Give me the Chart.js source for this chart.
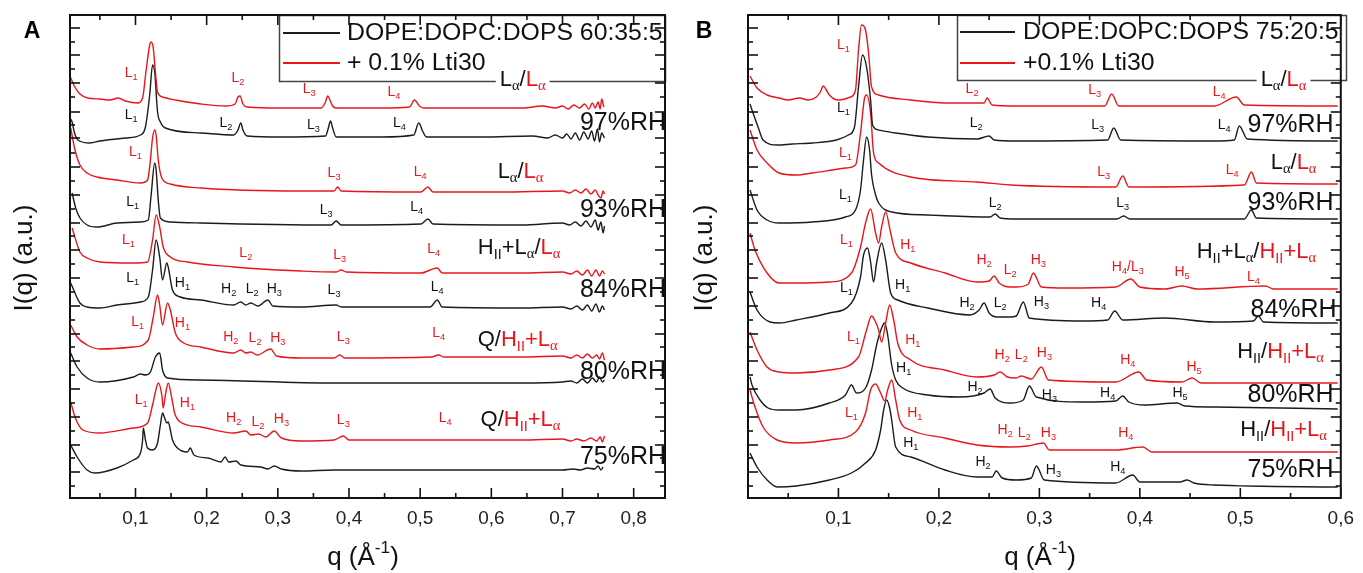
<!DOCTYPE html>
<html>
<head>
<meta charset="utf-8">
<script src="https://cdn.jsdelivr.net/npm/chart.js@4.4.1/dist/chart.umd.min.js"></script>
<style>
  html, body { margin: 0; padding: 0; background: #fff; }
  body { width: 1363px; height: 573px; position: relative; overflow: hidden; }
  .panel { position: absolute; top: 0; }
  #panelA { left: 0; width: 680px; height: 573px; }
  #panelB { left: 680px; width: 683px; height: 573px; }
</style>
</head>
<body>
<div class="panel" id="panelA"><canvas id="chartA" width="680" height="573"></canvas></div>
<div class="panel" id="panelB"><canvas id="chartB" width="683" height="573"></canvas></div>
<script>
// ---- data: [q (1/Å), stacked intensity (a.u.)] ----
const qTicksA = [0.1, 0.2, 0.3, 0.4, 0.5, 0.6, 0.7, 0.8];
const qTicksB = [0.1, 0.2, 0.3, 0.4, 0.5, 0.6];

// panel A: DOPE:DOPC:DOPS 60:35:5 (lipid) and + 0.1% Lti30
const a97Lti30 = [[0.008,422],[0.014,412],[0.022,404],[0.033,400],[0.050,399],[0.064,398],[0.076,400],[0.086,397],[0.103,395],[0.110,400],[0.115,428],[0.120,453],[0.122,456],[0.125,450],[0.128,426],[0.131,406],[0.138,401],[0.156,398],[0.192,394],[0.227,392],[0.240,394],[0.244,401],[0.247,402],[0.251,394],[0.257,391],[0.305,390],[0.361,390],[0.367,396],[0.370,402],[0.372,400],[0.377,392],[0.382,390],[0.446,390],[0.485,391],[0.492,398],[0.499,392],[0.505,390],[0.573,390],[0.644,390],[0.672,392],[0.690,390],[0.700,392],[0.708,389],[0.716,393],[0.724,390],[0.731,394],[0.737,389],[0.742,395],[0.746,390],[0.750,396],[0.753,389],[0.755,399],[0.758,391]];
const a97Lipid = [[0.008,380],[0.011,376],[0.014,366],[0.019,358],[0.036,355],[0.050,357],[0.086,360],[0.107,363],[0.114,371],[0.120,403],[0.124,433],[0.127,426],[0.131,386],[0.135,376],[0.142,370],[0.192,365],[0.238,363],[0.244,368],[0.248,375],[0.251,368],[0.257,362],[0.305,361],[0.367,362],[0.371,370],[0.374,377],[0.377,370],[0.382,361],[0.446,361],[0.491,363],[0.498,375],[0.504,366],[0.509,361],[0.587,361],[0.658,362],[0.679,360],[0.690,363],[0.700,360],[0.706,364],[0.712,359],[0.718,365],[0.724,358],[0.730,366],[0.736,359],[0.741,367],[0.745,357],[0.749,369],[0.752,356],[0.755,365],[0.759,360]];
const a93Lti30 = [[0.009,370],[0.015,348],[0.022,333],[0.032,325],[0.046,321],[0.074,318],[0.107,315],[0.117,318],[0.121,338],[0.124,360],[0.127,368],[0.129,363],[0.132,338],[0.137,320],[0.149,314],[0.192,310],[0.333,307],[0.379,307],[0.384,311],[0.389,307],[0.501,306],[0.511,311],[0.518,306],[0.614,306],[0.700,307],[0.710,305],[0.718,308],[0.726,305],[0.733,309],[0.740,304],[0.746,308],[0.750,303],[0.754,300],[0.757,307],[0.759,304]];
const a93Lipid = [[0.011,305],[0.016,290],[0.022,280],[0.032,273],[0.046,271],[0.074,275],[0.107,276],[0.118,278],[0.122,303],[0.127,335],[0.129,328],[0.132,298],[0.135,280],[0.149,276],[0.192,275],[0.375,273],[0.382,277],[0.389,273],[0.501,274],[0.511,279],[0.518,274],[0.643,273],[0.700,275],[0.710,273],[0.718,276],[0.726,272],[0.733,277],[0.740,271],[0.746,278],[0.750,268],[0.754,276],[0.757,265],[0.759,272]];
const a84Lti30 = [[0.011,270],[0.022,246],[0.032,240],[0.050,236],[0.097,235],[0.117,236],[0.124,258],[0.129,283],[0.134,271],[0.139,251],[0.149,241],[0.173,236],[0.238,231],[0.255,230],[0.333,227],[0.382,226],[0.389,228],[0.396,226],[0.501,225],[0.524,230],[0.531,225],[0.643,225],[0.700,226],[0.712,224],[0.720,227],[0.728,223],[0.735,228],[0.741,222],[0.747,228],[0.752,222],[0.756,227],[0.759,224]];
const a84Lipid = [[0.009,215],[0.022,195],[0.032,191],[0.050,190],[0.074,193],[0.107,196],[0.118,201],[0.124,228],[0.129,258],[0.134,241],[0.138,218],[0.144,235],[0.146,231],[0.152,208],[0.163,201],[0.192,198],[0.238,193],[0.248,196],[0.255,193],[0.262,195],[0.272,192],[0.286,198],[0.293,192],[0.333,191],[0.382,193],[0.389,191],[0.514,191],[0.524,198],[0.531,191],[0.643,190],[0.700,191],[0.712,189],[0.720,192],[0.728,188],[0.735,193],[0.741,187],[0.747,194],[0.752,186],[0.756,192],[0.759,188]];
const a80Lti30 = [[0.009,173],[0.018,161],[0.032,153],[0.050,149],[0.097,151],[0.118,158],[0.125,181],[0.131,203],[0.134,193],[0.138,173],[0.145,195],[0.149,188],[0.156,165],[0.168,155],[0.192,151],[0.238,145],[0.248,148],[0.255,145],[0.262,146],[0.271,143],[0.290,149],[0.298,142],[0.333,140],[0.379,140],[0.387,143],[0.394,140],[0.516,141],[0.526,143],[0.533,141],[0.643,141],[0.700,142],[0.712,140],[0.720,143],[0.728,140],[0.735,144],[0.742,140],[0.748,143],[0.752,139],[0.756,145],[0.759,138]];
const a80Lipid = [[0.009,145],[0.018,131],[0.032,120],[0.050,116],[0.097,121],[0.107,124],[0.114,123],[0.121,126],[0.128,141],[0.134,145],[0.138,128],[0.145,120],[0.192,118],[0.379,115],[0.643,115],[0.700,116],[0.712,117],[0.720,115],[0.728,119],[0.735,115],[0.742,120],[0.748,116],[0.752,121],[0.756,116],[0.759,118]];
const a75Lti30 = [[0.009,96],[0.015,81],[0.026,68],[0.050,65],[0.097,70],[0.117,75],[0.124,93],[0.128,106],[0.132,115],[0.137,103],[0.139,90],[0.142,103],[0.146,115],[0.151,100],[0.155,85],[0.163,76],[0.192,71],[0.238,65],[0.255,67],[0.262,63],[0.273,64],[0.283,61],[0.295,67],[0.305,60],[0.333,57],[0.379,58],[0.392,62],[0.400,58],[0.643,58],[0.700,59],[0.712,57],[0.720,59],[0.730,57],[0.740,60],[0.748,57],[0.753,61],[0.756,56],[0.759,62]];
const a75Lipid = [[0.009,53],[0.018,41],[0.032,28],[0.043,25],[0.074,30],[0.097,38],[0.107,45],[0.110,58],[0.111,70],[0.114,58],[0.117,50],[0.124,48],[0.131,55],[0.135,73],[0.138,85],[0.141,80],[0.144,75],[0.146,76],[0.149,68],[0.152,58],[0.159,50],[0.173,46],[0.177,50],[0.182,43],[0.202,40],[0.220,36],[0.226,41],[0.231,36],[0.241,37],[0.248,33],[0.276,31],[0.286,29],[0.295,32],[0.305,29],[0.333,27],[0.379,28],[0.643,28],[0.700,28],[0.715,29],[0.725,28],[0.735,30],[0.745,29],[0.750,32],[0.754,28],[0.757,31]];

// panel B: DOPE:DOPC:DOPS 75:20:5 (lipid) and +0.1% Lti30
const b97Lti30 = [[0.012,422],[0.019,410],[0.029,403],[0.041,400],[0.050,398],[0.061,400],[0.070,398],[0.078,401],[0.082,406],[0.085,412],[0.088,408],[0.091,403],[0.100,398],[0.112,401],[0.117,408],[0.120,448],[0.123,473],[0.127,468],[0.130,445],[0.133,411],[0.140,403],[0.172,398],[0.206,395],[0.245,395],[0.248,400],[0.253,393],[0.277,392],[0.365,392],[0.372,404],[0.379,392],[0.474,392],[0.496,401],[0.504,393],[0.597,392]];
const b97Lipid = [[0.012,394],[0.014,388],[0.020,371],[0.025,358],[0.039,353],[0.054,354],[0.074,355],[0.098,358],[0.110,363],[0.116,371],[0.120,411],[0.124,443],[0.128,431],[0.132,398],[0.134,373],[0.140,368],[0.157,365],[0.189,361],[0.238,359],[0.250,362],[0.255,358],[0.277,357],[0.368,358],[0.374,370],[0.381,358],[0.474,357],[0.494,358],[0.499,372],[0.507,359],[0.597,357]];
const b93Lti30 = [[0.012,368],[0.019,348],[0.029,335],[0.041,325],[0.058,323],[0.074,325],[0.094,328],[0.107,330],[0.117,333],[0.122,365],[0.126,400],[0.128,403],[0.132,385],[0.135,345],[0.140,335],[0.172,321],[0.238,316],[0.271,313],[0.376,311],[0.383,322],[0.389,311],[0.504,313],[0.511,326],[0.516,315],[0.597,314]];
const b93Lipid = [[0.012,308],[0.019,288],[0.029,278],[0.041,275],[0.074,276],[0.107,281],[0.117,288],[0.122,308],[0.125,338],[0.128,361],[0.131,348],[0.133,323],[0.137,303],[0.140,295],[0.153,286],[0.189,283],[0.251,281],[0.256,284],[0.261,280],[0.277,279],[0.377,279],[0.384,282],[0.390,279],[0.504,279],[0.511,288],[0.516,280],[0.597,279]];
const b84Lti30 = [[0.012,265],[0.017,248],[0.029,225],[0.041,215],[0.058,215],[0.091,216],[0.113,225],[0.122,251],[0.127,275],[0.132,289],[0.137,265],[0.140,255],[0.143,271],[0.147,286],[0.152,265],[0.157,245],[0.172,235],[0.206,225],[0.238,216],[0.250,217],[0.255,222],[0.260,215],[0.271,211],[0.277,211],[0.289,214],[0.294,225],[0.302,211],[0.327,210],[0.376,211],[0.391,219],[0.400,211],[0.425,209],[0.442,212],[0.457,209],[0.525,212],[0.533,209],[0.597,209]];
const b84Lipid = [[0.012,206],[0.019,188],[0.032,176],[0.041,175],[0.058,178],[0.091,185],[0.113,195],[0.122,221],[0.125,243],[0.129,250],[0.132,236],[0.135,216],[0.138,235],[0.143,255],[0.147,238],[0.152,205],[0.159,198],[0.189,190],[0.231,183],[0.240,188],[0.245,195],[0.250,185],[0.258,181],[0.271,181],[0.277,182],[0.284,196],[0.290,180],[0.343,177],[0.368,178],[0.375,187],[0.383,178],[0.425,180],[0.474,176],[0.513,177],[0.518,182],[0.523,176],[0.597,175]];
const b80Lti30 = [[0.012,166],[0.019,148],[0.029,131],[0.041,126],[0.058,125],[0.091,128],[0.120,141],[0.128,168],[0.133,182],[0.137,176],[0.140,168],[0.143,156],[0.147,175],[0.151,193],[0.155,178],[0.159,155],[0.172,138],[0.206,128],[0.238,121],[0.255,123],[0.261,126],[0.268,121],[0.277,120],[0.282,122],[0.292,119],[0.302,131],[0.309,118],[0.376,116],[0.399,126],[0.407,118],[0.442,116],[0.452,120],[0.461,115],[0.597,115]];
const b80Lipid = [[0.012,121],[0.014,113],[0.022,98],[0.030,90],[0.041,88],[0.058,88],[0.091,95],[0.107,103],[0.113,113],[0.118,105],[0.127,110],[0.133,128],[0.138,153],[0.143,170],[0.146,175],[0.149,163],[0.153,133],[0.157,118],[0.164,110],[0.189,103],[0.221,101],[0.245,105],[0.251,109],[0.256,100],[0.271,95],[0.284,98],[0.290,112],[0.297,101],[0.343,96],[0.376,97],[0.383,102],[0.389,96],[0.405,93],[0.437,95],[0.445,92],[0.474,91],[0.597,89]];
const b75Lti30 = [[0.012,108],[0.017,91],[0.025,71],[0.039,58],[0.058,55],[0.091,58],[0.117,66],[0.127,85],[0.132,108],[0.137,114],[0.142,105],[0.146,97],[0.149,108],[0.153,118],[0.157,98],[0.161,78],[0.172,68],[0.206,60],[0.238,53],[0.271,51],[0.288,52],[0.304,55],[0.310,48],[0.376,48],[0.403,51],[0.412,46],[0.597,46]];
const b75Lipid = [[0.012,45],[0.019,31],[0.029,18],[0.039,11],[0.058,12],[0.091,18],[0.113,25],[0.127,35],[0.137,48],[0.142,68],[0.145,88],[0.148,98],[0.151,90],[0.153,78],[0.157,51],[0.172,41],[0.206,28],[0.238,21],[0.253,21],[0.257,27],[0.263,20],[0.277,18],[0.292,20],[0.297,32],[0.305,18],[0.376,15],[0.393,23],[0.400,16],[0.440,16],[0.447,18],[0.454,15],[0.474,13],[0.597,11]];

// y axis tick marks (no labels, arbitrary units)
const yMajor = [470, 443, 415, 386, 360, 331, 303, 275, 248, 220, 192, 164, 137, 109, 81, 53, 26];
const yMinor = [456, 429, 401, 373, 345, 317, 289, 262, 234, 206, 178, 151, 123, 95, 67, 40, 12];

// peak labels [q, level, text, colour]
const peaksA = [
  [0.094,425,'L_1','r'],[0.244,420,'L_2','r'],[0.344,409,'L_3','r'],[0.463,406,'L_4','r'],
  [0.094,383,'L_1','k'],[0.227,375,'L_2','k'],[0.350,373,'L_3','k'],[0.471,375,'L_4','k'],
  [0.100,346,'L_1','r'],[0.379,325,'L_3','r'],[0.500,326,'L_4','r'],
  [0.096,296,'L_1','k'],[0.368,288,'L_3','k'],[0.495,291,'L_4','k'],
  [0.090,258,'L_1','r'],[0.255,245,'L_2','r'],[0.387,243,'L_3','r'],[0.519,249,'L_4','r'],
  [0.096,220,'L_1','k'],[0.166,215,'H_1','k'],[0.231,209,'H_2','k'],[0.264,209,'L_2','k'],[0.295,209,'H_3','k'],[0.379,208,'L_3','k'],[0.524,211,'L_4','k'],
  [0.103,176,'L_1','r'],[0.166,175,'H_1','r'],[0.234,161,'H_2','r'],[0.268,160,'L_2','r'],[0.300,160,'H_3','r'],[0.392,161,'L_3','r'],[0.526,165,'L_4','r'],
  [0.108,98,'L_1','r'],[0.173,95,'H_1','r'],[0.238,80,'H_2','r'],[0.272,76,'L_2','r'],[0.305,79,'H_3','r'],[0.392,78,'L_3','r'],[0.535,80,'L_4','r']
];
const peaksB = [
  [0.105,453,'L_1','r'],[0.233,409,'L_2','r'],[0.355,408,'L_3','r'],[0.479,406,'L_4','r'],
  [0.105,390,'L_1','k'],[0.237,375,'L_2','k'],[0.358,373,'L_3','k'],[0.484,373,'L_4','k'],
  [0.107,345,'L_1','r'],[0.364,326,'L_3','r'],[0.492,328,'L_4','r'],
  [0.107,303,'L_1','k'],[0.256,295,'L_2','k'],[0.383,295,'L_3','k'],
  [0.108,258,'L_1','r'],[0.169,253,'H_1','r'],[0.245,238,'H_2','r'],[0.271,228,'L_2','r'],[0.299,238,'H_3','r'],[0.388,231,'H_4/L_3','r'],[0.442,226,'H_5','r'],[0.513,221,'L_4','r'],
  [0.108,210,'L_1','k'],[0.164,213,'H_1','k'],[0.228,195,'H_2','k'],[0.261,195,'L_2','k'],[0.302,196,'H_3','k'],[0.359,195,'H_4','k'],
  [0.115,161,'L_1','r'],[0.174,158,'H_1','r'],[0.263,143,'H_2','r'],[0.282,143,'L_2','r'],[0.305,145,'H_3','r'],[0.388,138,'H_4','r'],[0.454,131,'H_5','r'],
  [0.165,130,'H_1','k'],[0.236,111,'H_2','k'],[0.310,103,'H_3','k'],[0.368,105,'H_4','k'],[0.440,105,'H_5','k'],
  [0.113,85,'L_1','r'],[0.176,85,'H_1','r'],[0.266,68,'H_2','r'],[0.285,65,'L_2','r'],[0.309,65,'H_3','r'],[0.386,65,'H_4','r'],
  [0.172,55,'H_1','k'],[0.244,36,'H_2','k'],[0.314,28,'H_3','k'],[0.378,31,'H_4','k']
];

// phase labels and humidity labels [q, level, parts]
const phasesA = [
  [0.644,418,[['L_α/','k'],['L_α','r']]],
  [0.641,326,[['L_α/','k'],['L_α','r']]],
  [0.639,250,[['H_{II}+L_α/','k'],['L_α','r']]],
  [0.637,158,[['Q/','k'],['H_{II}+L_α','r']]],
  [0.641,78,[['Q/','k'],['H_{II}+L_α','r']]]
];
const phasesB = [
  [0.543,418,[['L_α/','k'],['L_α','r']]],
  [0.553,335,[['L_α/','k'],['L_α','r']]],
  [0.516,246,[['H_{II}+L_α/','k'],['H_{II}+L_α','r']]],
  [0.540,146,[['H_{II}/','k'],['H_{II}+L_α','r']]],
  [0.543,68,[['H_{II}/','k'],['H_{II}+L_α','r']]]
];
const rhA = [[0.785,375,'97%RH'],[0.785,288,'93%RH'],[0.785,208,'84%RH'],[0.785,126,'80%RH'],[0.785,41,'75%RH']];
const rhB = [[0.550,373,'97%RH'],[0.550,295,'93%RH'],[0.553,188,'84%RH'],[0.550,103,'80%RH'],[0.550,28,'75%RH']];

const RED = '#e8161b', BLACK = '#1c1c1c';
const SANS = '"Liberation Sans", Arial, sans-serif';
const SERIF = '"Liberation Serif", "Times New Roman", serif';

function runsOf(str, color) {
  const out = [];
  let i = 0;
  while (i < str.length) {
    const ch = str[i];
    if ((ch === '_' || ch === '^') && i + 1 < str.length) {
      let body;
      if (str[i + 1] === '{') { const j = str.indexOf('}', i); body = str.slice(i + 2, j); i = j + 1; }
      else { body = str[i + 1]; i += 2; }
      out.push({ t: body, c: color, m: ch === '_' ? 'sub' : 'sup' });
    } else {
      const last = out[out.length - 1];
      if (last && !last.m && last.c === color && ch !== 'α' && !/α/.test(last.t)) last.t += ch;
      else out.push({ t: ch, c: color, m: '' });
      i++;
    }
  }
  return out;
}

function fontOf(r, size) {
  const s = r.m ? size * 0.66 : size;
  const fam = /α/.test(r.t) ? SERIF : SANS;
  return s.toFixed(1) + 'px ' + fam;
}

function drawRich(ctx, runs, x, y, size, align, bg) {
  let w = 0;
  runs.forEach(r => { ctx.font = fontOf(r, size); r.w = ctx.measureText(r.t).width; w += r.w; });
  let cx = align === 'center' ? x - w / 2 : align === 'right' ? x - w : x;
  if (bg) { ctx.fillStyle = '#fff'; ctx.fillRect(cx - 4, y - size * 0.6, w + 8, size * 1.25); }
  ctx.textBaseline = 'middle';
  ctx.textAlign = 'left';
  runs.forEach(r => {
    ctx.font = fontOf(r, size);
    ctx.fillStyle = r.c;
    const dy = r.m === 'sub' ? size * 0.3 : r.m === 'sup' ? -size * 0.38 : 0;
    ctx.fillText(r.t, cx, y + dy);
    cx += r.w;
  });
}

const decorCfg = {};

const decor = {
  id: 'decor',
  afterDatasetsDraw(chart) {
    const d = decorCfg[chart.canvas.id];
    const ctx = chart.ctx, a = chart.chartArea;
    const xs = chart.scales.x, ys = chart.scales.y;
    const col = k => (k === 'r' ? RED : '#111');
    ctx.save();

    // legend box
    const L = d.legend;
    ctx.fillStyle = '#fff';
    ctx.fillRect(L.x0, a.top, L.x1 - L.x0, L.y1 - a.top);
    ctx.strokeStyle = '#444';
    ctx.lineWidth = 1.5;
    ctx.strokeRect(L.x0 + 0.5, a.top + 0.5, L.x1 - L.x0, L.y1 - a.top);
    ctx.lineWidth = 2;
    [[BLACK, L.rows[0]], [RED, L.rows[1]]].forEach(([c, row], i) => {
      const y = L.ys[i];
      ctx.strokeStyle = c;
      ctx.beginPath(); ctx.moveTo(L.lx0, y); ctx.lineTo(L.lx1, y); ctx.stroke();
      drawRich(ctx, runsOf(row, '#111'), L.tx, y, 24.8, 'left');
    });

    // frame
    ctx.strokeStyle = '#111';
    ctx.lineWidth = 2;
    ctx.strokeRect(a.left, a.top, a.right - a.left, a.bottom - a.top);

    // ticks (all pointing inward)
    ctx.lineWidth = 1.6;
    const seg = (x0, y0, x1, y1) => { ctx.beginPath(); ctx.moveTo(x0, y0); ctx.lineTo(x1, y1); ctx.stroke(); };
    d.qMajor.forEach(q => { const x = xs.getPixelForValue(q); seg(x, a.bottom, x, a.bottom - 10); seg(x, a.top, x, a.top + 10); });
    d.qMinor.forEach(q => { const x = xs.getPixelForValue(q); seg(x, a.bottom, x, a.bottom - 5); seg(x, a.top, x, a.top + 5); });
    yMajor.forEach(v => { const y = ys.getPixelForValue(v); seg(a.left, y, a.left + 10, y); seg(a.right, y, a.right - 10, y); });
    yMinor.forEach(v => { const y = ys.getPixelForValue(v); seg(a.left, y, a.left + 5, y); seg(a.right, y, a.right - 5, y); });

    // peak labels
    d.peaks.forEach(([q, v, t, c]) => drawRich(ctx, runsOf(t, col(c)), xs.getPixelForValue(q), ys.getPixelForValue(v), 14, 'center'));
    // phase labels
    d.phases.forEach(([q, v, parts], i) => {
      const runs = [];
      parts.forEach(([t, c]) => runs.push(...runsOf(t, col(c))));
      drawRich(ctx, runs, xs.getPixelForValue(q), ys.getPixelForValue(v), 22, 'center', i === 0);
    });
    // humidity labels
    d.rh.forEach(([q, v, t]) => drawRich(ctx, runsOf(t, '#111'), xs.getPixelForValue(q), ys.getPixelForValue(v), 25, 'center'));

    // panel letter and axis titles
    ctx.fillStyle = '#000';
    ctx.font = 'bold 23px ' + SANS;
    ctx.textAlign = 'center'; ctx.textBaseline = 'middle';
    ctx.fillText(d.letter, d.letterX, 32);
    drawRich(ctx, runsOf('q (Å^{-1})', '#111'), d.xTitleX, 558, 26, 'center');
    ctx.translate(25, 258);
    ctx.rotate(-Math.PI / 2);
    drawRich(ctx, runsOf('I(q) (a.u.)', '#111'), 0, 0, 26, 'center');
    ctx.restore();
  }
};

function makeChart(id, qMin, qMax, qTicks, series, padding) {
  return new Chart(document.getElementById(id), {
    type: 'line',
    data: {
      datasets: series.map(([data, color]) => ({
        data: data,
        borderColor: color,
        borderWidth: 1.4,
        pointRadius: 0,
        fill: false,
        cubicInterpolationMode: 'monotone'
      }))
    },
    options: {
      responsive: false,
      animation: false,
      devicePixelRatio: 1,
      layout: { padding: padding },
      plugins: { legend: { display: false }, tooltip: { enabled: false } },
      scales: {
        x: {
          type: 'linear', min: qMin, max: qMax,
          afterBuildTicks: s => { s.ticks = qTicks.map(v => ({ value: v })); },
          afterFit: s => { s.height = 75; },
          grid: { display: false, drawTicks: false },
          border: { display: false },
          ticks: {
            padding: 9, color: '#222',
            font: { size: 19, family: SANS },
            callback: v => v.toFixed(1).replace('.', ',')
          }
        },
        y: { display: false, min: 0, max: 483 }
      }
    },
    plugins: [decor]
  });
}

decorCfg.chartA = {
  legend: { x0: 279, x1: 665, y1: 81, ys: [33, 63], lx0: 283, lx1: 340, tx: 347, rows: ['DOPE:DOPC:DOPS 60:35:5', '+ 0.1% Lti30'] },
  qMajor: qTicksA, qMinor: [0.05, 0.15, 0.25, 0.35, 0.45, 0.55, 0.65, 0.75],
  peaks: peaksA, phases: phasesA, rh: rhA,
  letter: 'A', letterX: 32, xTitleX: 363
};
decorCfg.chartB = {
  legend: { x0: 277, x1: 666, y1: 80, ys: [32, 63], lx0: 280, lx1: 335, tx: 343, rows: ['DOPE:DOPC:DOPS 75:20:5', '+0.1% Lti30'] },
  qMajor: qTicksB, qMinor: [0.05, 0.15, 0.25, 0.35, 0.45, 0.55],
  peaks: peaksB, phases: phasesB, rh: rhB,
  letter: 'B', letterX: 24, xTitleX: 360
};

makeChart('chartA', 0.008, 0.844, qTicksA, [
  [a97Lti30, RED], [a97Lipid, BLACK], [a93Lti30, RED], [a93Lipid, BLACK], [a84Lti30, RED],
  [a84Lipid, BLACK], [a80Lti30, RED], [a80Lipid, BLACK], [a75Lti30, RED], [a75Lipid, BLACK]
], { left: 70, top: 15, right: 15, bottom: 0 });

makeChart('chartB', 0.01, 0.6, qTicksB, [
  [b97Lti30, RED], [b97Lipid, BLACK], [b93Lti30, RED], [b93Lipid, BLACK], [b84Lti30, RED],
  [b84Lipid, BLACK], [b80Lti30, RED], [b80Lipid, BLACK], [b75Lti30, RED], [b75Lipid, BLACK]
], { left: 68, top: 15, right: 17, bottom: 0 });
</script>
</body>
</html>
